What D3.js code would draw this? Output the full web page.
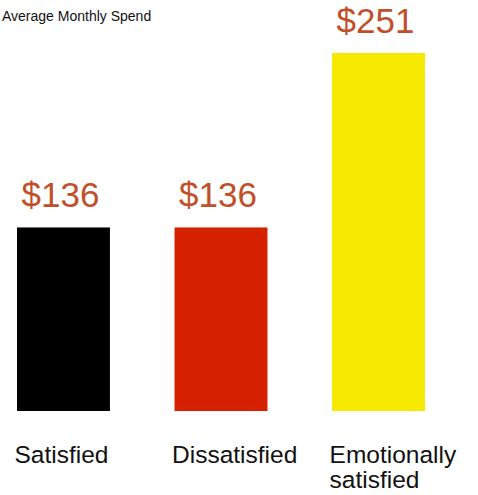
<!DOCTYPE html>
<html>
<head>
<meta charset="utf-8">
<script src="https://cdn.jsdelivr.net/npm/d3@7"></script>
<style>
  body { margin: 0; background: #fff; }
  text { font-family: "Liberation Sans", Arial, sans-serif; }
</style>
</head>
<body>
<div id="chart"></div>
<script>
var categories = ["Satisfied", "Dissatisfied", "Emotionally satisfied"];
var spend = [136, 136, 251];
var valueLabels = ["$136", "$136", "$251"];
var barColors = ["#000000", "#d52100", "#f5ea00"];

var svgWidth = 478;
var svgHeight = 495;

var svg = d3.select("#chart")
  .append("svg")
    .attr("width", svgWidth)
    .attr("height", svgHeight);

// title
svg.append("text")
  .attr("x", 2)
  .attr("y", 21)
  .attr("font-size", "14px")
  .attr("fill", "#111")
  .text("Average Monthly Spend");

var xBand = d3.scaleBand()
  .domain(categories)
  .range([0, 442])
  .paddingInner(0.41)
  .paddingOuter(0.108);

// axis baseline is not at zero in the original picture
var yScale = d3.scaleLinear()
  .domain([15, 251])
  .range([411, 53]);

var data = categories.map(function(c, i) {
  return { cat: c, value: spend[i], label: valueLabels[i], color: barColors[i] };
});

svg.selectAll("rect.bar")
  .data(data)
  .enter()
  .append("rect")
    .attr("class", "bar")
    .attr("x", d => xBand(d.cat))
    .attr("y", d => yScale(d.value))
    .attr("width", xBand.bandwidth())
    .attr("height", d => yScale.range()[0] - yScale(d.value))
    .attr("fill", d => d.color);

// value labels
svg.selectAll("text.value")
  .data(data)
  .enter()
  .append("text")
    .attr("class", "value")
    .attr("x", d => xBand(d.cat) + xBand.bandwidth() / 2 - 3)
    .attr("y", d => yScale(d.value) - 20)
    .attr("text-anchor", "middle")
    .attr("font-size", "35px")
    .attr("fill", "#c0502a")
    .text(d => d.label);

// category labels (wrap on space for the long one)
var catText = svg.selectAll("text.cat")
  .data(data)
  .enter()
  .append("text")
    .attr("class", "cat")
    .attr("y", 463)
    .attr("font-size", "24.5px")
    .attr("fill", "#111");

catText.each(function(d) {
  var words = d.cat === "Emotionally satisfied" ? ["Emotionally", "satisfied"] : [d.cat];
  var t = d3.select(this);
  words.forEach(function(w, i) {
    t.append("tspan")
      .attr("x", xBand(d.cat) - 2.5)
      .attr("dy", i === 0 ? 0 : 25)
      .text(w);
  });
});
</script>
</body>
</html>
